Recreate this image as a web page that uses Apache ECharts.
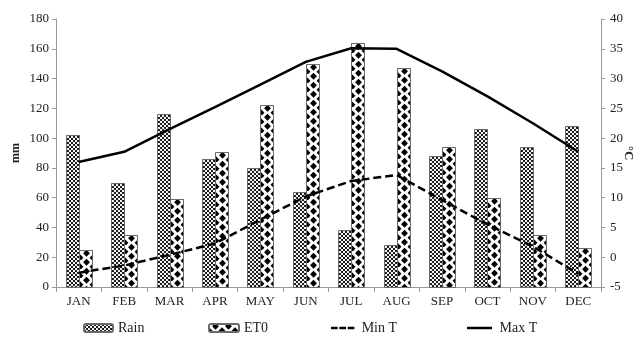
<!DOCTYPE html>
<html>
<head>
<meta charset="utf-8">
<script src="https://cdn.jsdelivr.net/npm/echarts@6/dist/echarts.min.js"></script>
<style>
  html, body { margin: 0; padding: 0; background: #fff; }
  #chart { width: 637px; height: 341px; }
</style>
</head>
<body>
<div id="chart"></div>
<script>
// Monthly climate: rainfall and reference evapotranspiration (mm), min/max temperature (°C)
var months = ['JAN', 'FEB', 'MAR', 'APR', 'MAY', 'JUN', 'JUL', 'AUG', 'SEP', 'OCT', 'NOV', 'DEC'];
var rain = [102, 70, 116, 86, 80, 64, 38, 28, 88, 106, 94, 108];
var et0 = [25, 35, 59, 91, 122, 150, 164, 147, 94, 60, 35, 26];
var minT = [-2.6, -1.4, 0.4, 2.3, 6.3, 10.2, 12.8, 13.8, 9.6, 5.5, 1.8, -2.8];
var maxT = [16.0, 17.7, 21.5, 25.2, 29.0, 32.8, 35.1, 35.0, 31.2, 27.0, 22.5, 17.7];

var serif = '"Liberation Serif", "Times New Roman", serif';

// Stippled fill: white dots on black
function makeRainTile() {
  var c = document.createElement('canvas');
  c.width = 4; c.height = 4;
  var g = c.getContext('2d');
  g.fillStyle = '#111111';
  g.fillRect(0, 0, 4, 4);
  g.fillStyle = '#ffffff';
  g.beginPath(); g.arc(1, 1, 1.15, 0, Math.PI * 2); g.fill();
  g.beginPath(); g.arc(3, 3, 1.15, 0, Math.PI * 2); g.fill();
  return c;
}

// Staggered black diamonds on white
function makeEtTile() {
  var w = 13, h = 9;
  var c = document.createElement('canvas');
  c.width = w; c.height = h;
  var g = c.getContext('2d');
  g.fillStyle = '#ffffff';
  g.fillRect(0, 0, w, h);
  g.fillStyle = '#000000';
  function diamond(cx, cy) {
    g.beginPath();
    g.moveTo(cx, cy - 3.6);
    g.lineTo(cx + 3.4, cy);
    g.lineTo(cx, cy + 3.6);
    g.lineTo(cx - 3.4, cy);
    g.closePath();
    g.fill();
  }
  diamond(6.5, 2.25);
  diamond(6.5, 11.25);
  diamond(6.5, -6.75);
  diamond(0, 6.75);
  diamond(13, 6.75);
  return c;
}

var rainTile = makeRainTile();
var etTile = makeEtTile();

function barRenderer(tile, slot) {
  return function (params, api) {
    var idx = api.value(0);
    var top = api.coord([idx, api.value(1)]);
    var base = api.coord([idx, 0]);
    var band = api.size([1, 0])[0];
    var w = Math.round(band * 0.29);
    var x = slot === 0 ? Math.round(top[0]) - w : Math.round(top[0]);
    var y = Math.round(top[1]);
    var b = Math.round(base[1]);
    return {
      type: 'rect',
      shape: { x: x + 0.5, y: y + 0.5, width: w, height: b - y },
      style: {
        fill: { image: tile, repeat: 'repeat', x: x + 1, y: y + 1 },
        stroke: '#6a6a6a',
        lineWidth: 1
      }
    };
  };
}

var chart = echarts.init(document.getElementById('chart'), null, { renderer: 'canvas' });

var legendText = { fontFamily: serif, fontSize: 14, color: '#222' };
var dashIcon = 'path://M0,0h8v3h-8z M10,0h8v3h-8z M20,0h8v3h-8z';
var solidIcon = 'path://M0,0h30v3h-30z';

chart.setOption({
  animation: false,
  backgroundColor: '#ffffff',
  textStyle: { fontFamily: serif },
  grid: { left: 56, right: 36, top: 19, bottom: 54, containLabel: false, outerBoundsMode: 'none' },
  legend: [
    { data: ['Rain'], left: 78, top: 316, itemWidth: 29, itemHeight: 8, itemGap: 0, textStyle: legendText },
    { data: ['ET0'], left: 203, top: 316, itemWidth: 30, itemHeight: 8, itemGap: 0, textStyle: legendText },
    { data: [{ name: 'Min T', icon: dashIcon }], left: 326, top: 316, itemWidth: 28, itemHeight: 2.5, itemGap: 0, textStyle: legendText },
    { data: [{ name: 'Max T', icon: solidIcon }], left: 462, top: 316, itemWidth: 30, itemHeight: 2.5, itemGap: 0, textStyle: legendText }
  ],
  xAxis: {
    type: 'category',
    data: months,
    boundaryGap: true,
    axisLine: { lineStyle: { color: '#9a9a9a', width: 1 } },
    axisTick: { show: true, length: 5, lineStyle: { color: '#9a9a9a' } },
    axisLabel: { fontFamily: serif, fontSize: 13, color: '#222', margin: 8 },
    splitLine: { show: false }
  },
  yAxis: [
    {
      type: 'value',
      min: 0, max: 180, interval: 20,
      position: 'left',
      name: 'mm',
      nameLocation: 'middle',
      nameGap: 34,
      nameRotate: 90,
      nameMoveOverlap: false,
      nameTextStyle: { fontFamily: serif, fontSize: 12, fontWeight: 'bold', color: '#222' },
      axisLine: { show: true, lineStyle: { color: '#9a9a9a', width: 1 } },
      axisTick: { show: true, length: 4, lineStyle: { color: '#9a9a9a' } },
      axisLabel: { fontFamily: serif, fontSize: 13, color: '#222', margin: 7 },
      splitLine: { show: false }
    },
    {
      type: 'value',
      min: -5, max: 40, interval: 5,
      position: 'right',
      name: '°C',
      nameLocation: 'middle',
      nameGap: 21,
      nameRotate: -90,
      nameMoveOverlap: false,
      nameTextStyle: { fontFamily: serif, fontSize: 13, fontWeight: 'bold', color: '#222' },
      axisLine: { show: true, lineStyle: { color: '#9a9a9a', width: 1 } },
      axisTick: { show: true, length: 4, lineStyle: { color: '#9a9a9a' } },
      axisLabel: { fontFamily: serif, fontSize: 13, color: '#222', margin: 9 },
      splitLine: { show: false }
    }
  ],
  series: [
    {
      name: 'Rain',
      type: 'custom',
      xAxisIndex: 0, yAxisIndex: 0,
      renderItem: barRenderer(rainTile, 0),
      itemStyle: { color: { image: rainTile, repeat: 'repeat' }, borderColor: '#6a6a6a', borderWidth: 1 },
      encode: { x: 0, y: 1 },
      data: rain.map(function (v, i) { return [i, v]; }),
      z: 2
    },
    {
      name: 'ET0',
      type: 'custom',
      xAxisIndex: 0, yAxisIndex: 0,
      renderItem: barRenderer(etTile, 1),
      itemStyle: { color: { image: etTile, repeat: 'repeat' }, borderColor: '#6a6a6a', borderWidth: 1 },
      encode: { x: 0, y: 1 },
      data: et0.map(function (v, i) { return [i, v]; }),
      z: 2
    },
    {
      name: 'Min T',
      type: 'line',
      yAxisIndex: 1,
      data: minT,
      symbol: 'none',
      itemStyle: { color: '#000' },
      lineStyle: { color: '#000', width: 2.5, type: [8, 4] },
      z: 3
    },
    {
      name: 'Max T',
      type: 'line',
      yAxisIndex: 1,
      data: maxT,
      symbol: 'none',
      itemStyle: { color: '#000' },
      lineStyle: { color: '#000', width: 2.5, type: 'solid' },
      z: 3
    }
  ]
});
</script>
</body>
</html>
